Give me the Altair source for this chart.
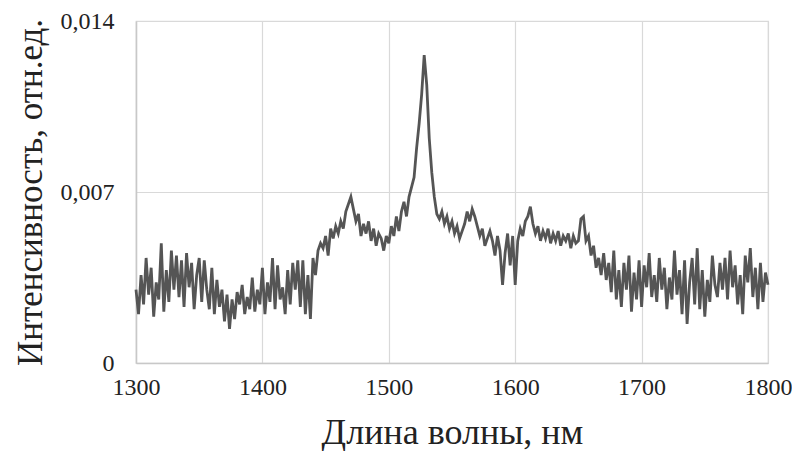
import altair as alt
import pandas as pd

# wavelength start/step (nm) and intensity readings (in units of 0.001 rel. units)
wl_start = 1300
wl_step = 2
intensity_milli = [
    3.0, 2.0, 3.6, 2.4, 4.3, 2.8, 3.9, 1.9, 3.3, 2.6,
    4.9, 2.1, 3.8, 2.5, 4.6, 3.0, 4.4, 2.7, 4.2, 2.3,
    4.5, 3.1, 4.1, 2.2, 3.6, 4.3, 2.5, 4.2, 3.0, 2.2,
    3.9, 2.0, 3.4, 2.3, 3.0, 1.7, 2.8, 1.4, 2.6, 1.8,
    2.9, 2.4, 3.2, 2.0, 2.7, 2.2, 3.5, 2.1, 3.0, 2.4,
    3.9, 2.0, 3.3, 2.5, 4.3, 2.2, 4.0, 2.6, 3.1, 2.0,
    3.8, 2.4, 4.1, 3.0, 4.2, 2.3, 4.2, 2.0, 3.6, 1.8,
    4.3, 3.6, 4.6, 4.9, 4.7, 5.2, 4.4, 5.5, 5.1, 5.6,
    5.3, 5.8, 5.5, 6.2, 6.5, 6.8, 6.3, 5.8, 6.1, 5.2,
    5.7, 5.3, 5.8, 5.0, 5.5, 4.8, 5.3, 5.1, 4.6, 5.2,
    4.9, 5.6, 5.2, 6.0, 5.4, 6.2, 6.6, 6.0, 6.8, 7.2,
    7.6, 8.8, 9.8, 11.0, 12.6, 11.4, 9.2, 7.8, 6.8, 6.1,
    5.9, 6.2, 5.7, 6.0, 5.5, 5.8, 5.3, 5.6, 5.1, 5.4,
    5.7, 6.2, 5.8, 6.3, 6.0, 5.6, 5.2, 5.5, 4.8, 5.1,
    5.4, 5.0, 4.4, 5.2, 4.6, 3.2, 4.5, 5.3, 4.0, 5.2,
    3.2, 5.0, 5.5, 5.2, 5.8, 6.0, 6.4, 5.7, 5.3, 5.6,
    5.0, 5.4, 5.1, 5.5, 4.9, 5.3, 5.0, 5.4, 4.8, 5.2,
    5.0, 5.3, 4.7, 5.2, 4.9, 5.0, 5.9, 6.0, 5.0, 5.2,
    4.4, 4.8, 3.9, 4.3, 3.6, 4.5, 3.4, 4.1, 2.9, 4.6,
    2.6, 3.8, 2.3, 4.1, 3.0, 4.4, 2.1, 3.7, 2.6, 4.2,
    2.3, 4.0, 3.1, 4.5, 2.7, 3.6, 2.5, 4.3, 3.0, 3.9,
    2.2, 3.5, 2.6, 4.6, 2.8, 3.8, 2.0, 4.2, 1.6, 3.3,
    4.3, 2.4, 4.7, 2.2, 3.8, 1.9, 3.4, 2.5, 4.4, 3.2,
    2.7, 4.1, 3.0, 4.3, 2.6, 4.6, 3.1, 4.0, 2.4, 3.6,
    2.0, 4.4, 3.3, 4.7, 2.7, 3.9, 2.2, 4.1, 2.5, 3.7,
    3.2,
]
x_ticks = [1300, 1400, 1500, 1600, 1700, 1800]
y_ticks = [0, 0.007, 0.014]

df = pd.DataFrame({
    "wavelength": [wl_start + i * wl_step for i in range(len(intensity_milli))],
    "intensity": [v / 1000 for v in intensity_milli],
})

FONT = "Liberation Serif"

chart = alt.Chart(df).mark_line(color="#555555", strokeWidth=2.8).encode(
    x=alt.X("wavelength:Q",
            scale=alt.Scale(domain=[1300, 1800], nice=False, zero=False),
            axis=alt.Axis(values=x_ticks, format="d", title="Длина волны, нм",
                          labelFlush=False, labelOverlap=False,
                          labelPadding=12, titlePadding=16, tickSize=0,
                          labelFontSize=24, titleFontSize=36)),
    y=alt.Y("intensity:Q",
            scale=alt.Scale(domain=[0, 0.014], nice=False),
            axis=alt.Axis(values=y_ticks, title="Интенсивность, отн.ед.",
                          labelExpr="datum.value == 0 ? '0' : replace(format(datum.value, '.3f'), '.', ',')",
                          labelFlush=False, labelOverlap=False,
                          labelPadding=22, titlePadding=12, tickSize=0,
                          labelFontSize=24, titleFontSize=35)),
).properties(
    width=632, height=342,
    autosize=alt.AutoSizeParams(type="none"),
    padding={"left": 128, "top": 13, "right": 24, "bottom": 88},
).configure_axis(
    labelFont=FONT, titleFont=FONT,
    labelColor="#222222", titleColor="#222222",
    titleFontWeight="normal",
    gridColor="#d9d9d9", gridWidth=1.2,
    domainColor="#c8c8c8", domainWidth=1.5,
).configure_view(stroke="#d9d9d9", strokeWidth=1.2)

chart.save("out.html", embed_options={"renderer": "svg", "actions": False})
